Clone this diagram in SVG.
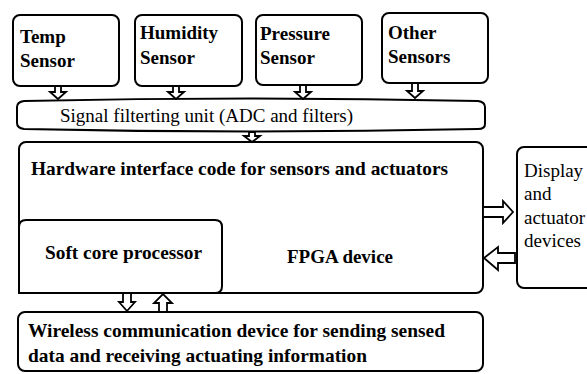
<svg xmlns="http://www.w3.org/2000/svg" width="587" height="374" viewBox="0 0 587 374">
<style>
.box{fill:#fff;stroke:#000;stroke-width:2}
.arr{fill:#fff;stroke:#000;stroke-width:1.8;stroke-linejoin:miter}
.b{font-family:'Liberation Serif','Times New Roman','DejaVu Serif',serif;font-weight:bold;font-size:19px;fill:#000}
.r{font-family:'Liberation Serif','Times New Roman','DejaVu Serif',serif;font-size:19px;fill:#000}
</style>
<rect width="587" height="374" fill="#fff"/>
<g id="temp"><rect class="box" x="13" y="15" width="106" height="71" rx="7"/>
<text class="b" x="20" y="43" font-family="Liberation Serif">Temp</text><text class="b" x="20" y="67" font-family="Liberation Serif">Sensor</text></g>
<g id="humidity"><rect class="box" x="135" y="15" width="107" height="71" rx="7"/>
<text class="b" x="140" y="39">Humidity</text><text class="b" x="140" y="64">Sensor</text></g>
<g id="pressure"><rect class="box" x="256" y="15" width="106" height="70" rx="7"/>
<text class="b" x="260" y="40">Pressure</text><text class="b" x="260" y="64">Sensor</text></g>
<g id="other"><rect class="box" x="382" y="13" width="106" height="70" rx="7"/>
<text class="b" x="388" y="39">Other</text><text class="b" x="388" y="63">Sensors</text></g>
<g id="filter"><path class="box" d="M24,101 Q250,96 478,101 Q485,102 485,107 V124 Q485,129 478,129 Q250,134 24,129 Q17,128 17,123 V107 Q17,102 24,101 Z"/>
<text class="r" x="60" y="122" textLength="293" lengthAdjust="spacingAndGlyphs">Signal filterting unit (ADC and filters)</text></g>
<g id="fpga"><rect class="box" x="19" y="142" width="464" height="151" rx="7"/>
<text class="b" x="31" y="175" textLength="417" lengthAdjust="spacingAndGlyphs">Hardware interface code for sensors and actuators</text>
<text class="b" x="287" y="263" textLength="106" lengthAdjust="spacingAndGlyphs">FPGA device</text></g>
<g id="softcore"><path class="box" d="M19,293 V227 Q19,220 26,220 H215 Q222,220 222,227 V286 Q222,293 215,293 Z"/>
<text class="b" x="45" y="259" textLength="157" lengthAdjust="spacingAndGlyphs">Soft core processor</text></g>
<g id="display"><rect class="box" x="517" y="147" width="80" height="141" rx="7"/>
<text class="r" x="524" y="177">Display</text><text class="r" x="524" y="200">and</text>
<text class="r" x="524" y="224">actuator</text><text class="r" x="524" y="247">devices</text></g>
<g id="wireless"><rect class="box" x="18" y="312" width="465" height="59" rx="7"/>
<text class="b" x="28" y="337" textLength="417" lengthAdjust="spacingAndGlyphs">Wireless communication device for sending sensed</text>
<text class="b" x="28" y="362" textLength="339" lengthAdjust="spacingAndGlyphs">data and receiving actuating information</text></g>
<g id="connectors">
<path class="arr" d="M55,86 H61 V92 H66 L58,99 L50,92 H55 Z"/>
<path class="arr" d="M173,86 H179 V92 H184 L176,99 L168,92 H173 Z"/>
<path class="arr" d="M300,85 H306 V92 H311 L303,99 L295,92 H300 Z"/>
<path class="arr" d="M412,83 H418 V91 H423 L415,98 L407,91 H412 Z"/>
<path class="arr" d="M249,132 H255 V136 H260 L252,142 L244,136 H249 Z"/>
<path class="arr" d="M483,207 H503 V201 L513,212 L503,223 V217 H483 Z"/>
<path class="arr" d="M515,253 H498 V247 L484,258 L498,270 V263 H515 Z"/>
<path class="arr" d="M123,293 H131 V302 H135 L127,311 L119,302 H123 Z"/>
<path class="arr" d="M159,312 H167 V303 H172 L163,294 L154,303 H159 Z"/>
</g>
</svg>
